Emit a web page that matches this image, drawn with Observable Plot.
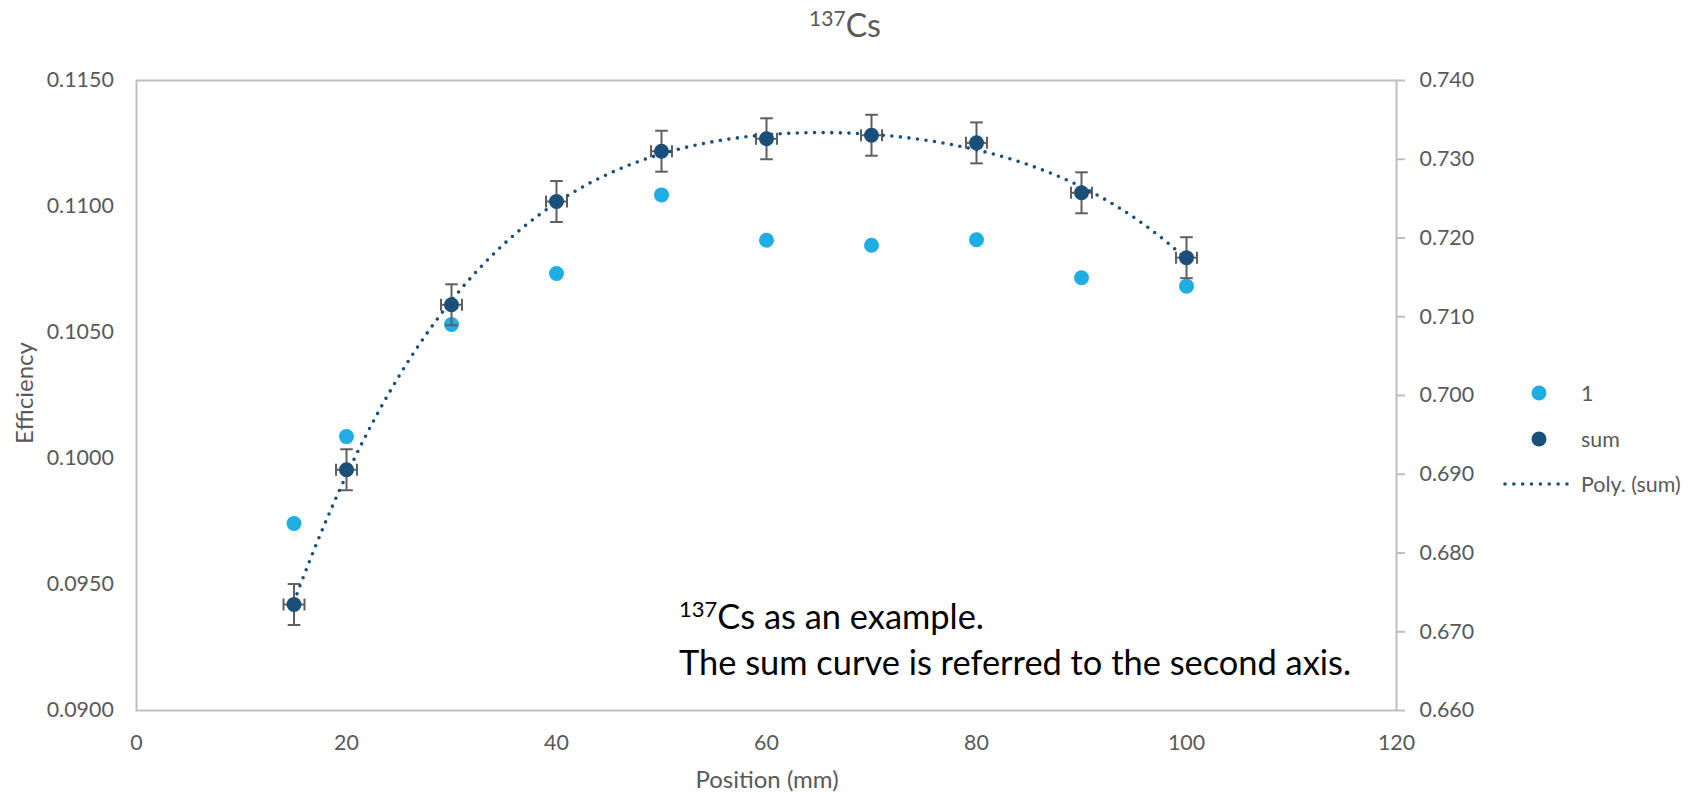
<!DOCTYPE html>
<html>
<head>
<meta charset="utf-8">
<script src="https://cdn.jsdelivr.net/npm/d3@7"></script>
<script src="https://cdn.jsdelivr.net/npm/@observablehq/plot@0.6"></script>
<style>
  body { margin: 0; background: #ffffff; }
  #chart svg { display: block; font-family: Lato, "Open Sans", sans-serif; }
</style>
</head>
<body>
<div id="chart"></div>
<script>
// Detector positions (mm)
const positions = [15, 20, 30, 40, 50, 60, 70, 80, 90, 100];
// Efficiency of detector 1 (left axis)
const efficiency1 = [0.09742, 0.10087, 0.10532, 0.10734, 0.11046, 0.10866, 0.10846, 0.10868, 0.10717, 0.10684];
// Summed efficiency (right axis)
const efficiencySum = [0.67346, 0.69057, 0.71152, 0.72463, 0.73102, 0.73260, 0.73305, 0.73208, 0.72574, 0.71750];
// Uncertainties of the summed points
const sumError = [0.0026, 0.0026, 0.0026, 0.0026, 0.0026, 0.0026, 0.0026, 0.0026, 0.0026, 0.0026];
const positionError = [1, 1, 1, 1, 1, 1, 1, 1, 1, 1];

// Axis ticks
const xTicks = [0, 20, 40, 60, 80, 100, 120];
const leftTicks = [0.0900, 0.0950, 0.1000, 0.1050, 0.1100, 0.1150];
const rightTicks = [0.660, 0.670, 0.680, 0.690, 0.700, 0.710, 0.720, 0.730, 0.740];
const leftDomain = [0.0900, 0.1150];
const rightDomain = [0.660, 0.740];

// Order of the polynomial trendline fitted to the sum series
const polyOrder = 4;

const colorOne = "#1EAEE4";
const colorSum = "#1A4F7A";
const barColor = "#5F5F5F";
const gridGray = "#BFBFBF";
const textGray = "#595959";

// Map secondary-axis values onto the primary y scale and back
const toLeft = v => leftDomain[0] + (v - rightDomain[0]) / (rightDomain[1] - rightDomain[0]) * (leftDomain[1] - leftDomain[0]);
const toRight = v => rightDomain[0] + (v - leftDomain[0]) / (leftDomain[1] - leftDomain[0]) * (rightDomain[1] - rightDomain[0]);

// Least-squares polynomial fit (x scaled by 1/100 for conditioning)
function polyFit(xs, ys, order) {
  const n = order + 1;
  const A = Array.from({length: n}, () => new Array(n + 1).fill(0));
  xs.forEach((x, k) => {
    const t = x / 100;
    for (let i = 0; i < n; i++) {
      for (let j = 0; j < n; j++) A[i][j] += Math.pow(t, i + j);
      A[i][n] += ys[k] * Math.pow(t, i);
    }
  });
  for (let c = 0; c < n; c++) {
    let p = c;
    for (let r = c + 1; r < n; r++) if (Math.abs(A[r][c]) > Math.abs(A[p][c])) p = r;
    [A[c], A[p]] = [A[p], A[c]];
    for (let r = 0; r < n; r++) {
      if (r === c) continue;
      const f = A[r][c] / A[c][c];
      for (let k = c; k <= n; k++) A[r][k] -= f * A[c][k];
    }
  }
  const coef = A.map((row, i) => row[n] / row[i]);
  return x => coef.reduce((s, a, i) => s + a * Math.pow(x / 100, i), 0);
}

const rowsOne = positions.map((x, i) => ({position: x, value: efficiency1[i]}));
const rowsSum = positions.map((x, i) => ({position: x, value: efficiencySum[i], err: sumError[i], xerr: positionError[i]}));

const trendFn = polyFit(positions, efficiencySum, polyOrder);
const trend = d3.range(positions[0], positions[positions.length - 1] + 0.001, 0.5).map(x => ({position: x, value: trendFn(x)}));

// Custom symbols for error-bar caps
const hCap = {draw(ctx, size) { const r = Math.sqrt(size / Math.PI); ctx.moveTo(-r, 0); ctx.lineTo(r, 0); }};
const vCap = {draw(ctx, size) { const r = Math.sqrt(size / Math.PI); ctx.moveTo(0, -r); ctx.lineTo(0, r); }};

const W = 1704, H = 793;
const svg = Plot.plot({
  width: W,
  height: H,
  marginLeft: 136,
  marginRight: 308,
  marginTop: 80,
  marginBottom: 83,
  style: {fontFamily: "Lato, 'Open Sans', sans-serif", fontSize: "21.4px", background: "#ffffff"},
  x: {domain: [0, 120], label: null},
  y: {domain: leftDomain, label: null},
  marks: [
    Plot.frame({stroke: gridGray, strokeWidth: 2}),
    Plot.axisX(xTicks, {anchor: "bottom", tickSize: 0, tickPadding: 24, fill: textGray, stroke: gridGray, fontSize: 21.4, label: null}),
    Plot.axisY(leftTicks, {anchor: "left", tickSize: 0, tickPadding: 22.7, tickFormat: d3.format(".4f"), fill: textGray, stroke: gridGray, fontSize: 21.4, label: null}),
    Plot.axisY(rightTicks.map(toLeft), {anchor: "right", tickSize: 8, tickPadding: 15, tickFormat: d => toRight(d).toFixed(3), fill: textGray, stroke: gridGray, strokeWidth: 2, fontSize: 21.4, label: null}),
    // Series 1 on the primary axis
    Plot.dot(rowsOne, {x: "position", y: "value", r: 7.5, fill: colorOne, stroke: "none"}),
    // Error bars of the sum series
    Plot.ruleX(rowsSum, {x: "position", y1: d => toLeft(d.value - d.err), y2: d => toLeft(d.value + d.err), stroke: barColor, strokeWidth: 2}),
    Plot.dot(rowsSum, {x: "position", y: d => toLeft(d.value + d.err), symbol: hCap, r: 6.3, fill: "none", stroke: barColor, strokeWidth: 2}),
    Plot.dot(rowsSum, {x: "position", y: d => toLeft(d.value - d.err), symbol: hCap, r: 6.3, fill: "none", stroke: barColor, strokeWidth: 2}),
    Plot.ruleY(rowsSum, {y: d => toLeft(d.value), x1: d => d.position - d.xerr, x2: d => d.position + d.xerr, stroke: barColor, strokeWidth: 2}),
    Plot.dot(rowsSum, {x: d => d.position - d.xerr, y: d => toLeft(d.value), symbol: vCap, r: 6, fill: "none", stroke: barColor, strokeWidth: 2}),
    Plot.dot(rowsSum, {x: d => d.position + d.xerr, y: d => toLeft(d.value), symbol: vCap, r: 6, fill: "none", stroke: barColor, strokeWidth: 2}),
    // Polynomial trendline of the sum series
    Plot.line(trend, {x: "position", y: d => toLeft(d.value), stroke: colorSum, strokeWidth: 3.6, strokeDasharray: "0 8.6", strokeLinecap: "round"}),
    // Sum series on the secondary axis
    Plot.dot(rowsSum, {x: "position", y: d => toLeft(d.value), r: 7.5, fill: colorSum, stroke: "none"})
  ]
});

document.getElementById("chart").appendChild(svg);

const root = d3.select(svg);
const font = "Lato, 'Open Sans', sans-serif";

// Title with superscript mass number
const title = root.append("text")
  .attr("x", 845).attr("y", 37)
  .attr("text-anchor", "middle")
  .attr("fill", textGray)
  .style("font-family", font);
title.append("tspan").attr("font-size", 21).attr("dy", -11).text("137");
title.append("tspan").attr("font-size", 32).attr("dy", 11).text("Cs");

// Axis titles
root.append("text")
  .attr("transform", "translate(33,393) rotate(-90)")
  .attr("text-anchor", "middle")
  .attr("fill", textGray).attr("font-size", 24)
  .style("font-family", font)
  .text("Efficiency");
root.append("text")
  .attr("x", 767).attr("y", 788)
  .attr("text-anchor", "middle")
  .attr("fill", textGray).attr("font-size", 24)
  .style("font-family", font)
  .text("Position (mm)");

// Annotation inside the plot area
const note1 = root.append("text")
  .attr("x", 679).attr("y", 629)
  .attr("text-anchor", "start")
  .attr("fill", "#000000")
  .style("font-family", font);
note1.append("tspan").attr("font-size", 22).attr("dy", -12).text("137");
note1.append("tspan").attr("font-size", 34.4).attr("dy", 12).text("Cs as an example.");
root.append("text")
  .attr("x", 679).attr("y", 675)
  .attr("text-anchor", "start")
  .attr("fill", "#000000").attr("font-size", 34.4)
  .style("font-family", font)
  .text("The sum curve is referred to the second axis.");

// Legend
const legend = root.append("g").style("font-family", font).attr("font-size", 21.4).attr("fill", textGray).attr("text-anchor", "start");
legend.append("circle").attr("cx", 1539).attr("cy", 393).attr("r", 7.5).attr("fill", colorOne);
legend.append("text").attr("x", 1581).attr("y", 393).attr("dy", "0.36em").text("1");
legend.append("circle").attr("cx", 1539).attr("cy", 439).attr("r", 7.5).attr("fill", colorSum);
legend.append("text").attr("x", 1581).attr("y", 439).attr("dy", "0.36em").text("sum");
legend.append("line").attr("x1", 1505).attr("x2", 1567).attr("y1", 484).attr("y2", 484)
  .attr("stroke", colorSum).attr("stroke-width", 3.6).attr("stroke-dasharray", "0 8.85").attr("stroke-linecap", "round");
legend.append("text").attr("x", 1581).attr("y", 484).attr("dy", "0.36em").text("Poly. (sum)");
</script>
</body>
</html>
